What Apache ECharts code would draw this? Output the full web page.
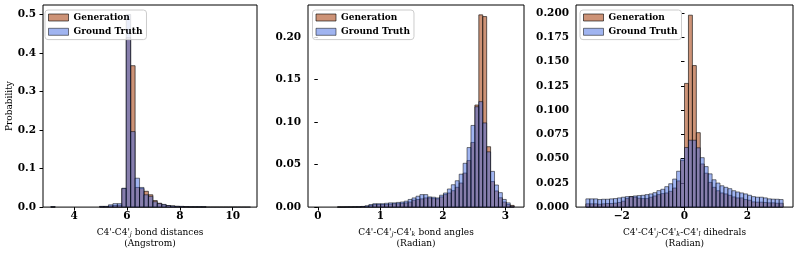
<!DOCTYPE html>
<html><head><meta charset="utf-8">
<script src="https://cdn.jsdelivr.net/npm/echarts@6/dist/echarts.min.js"></script>
<style>html,body{margin:0;padding:0;background:#fff}#c{width:797px;height:254px}</style>
</head><body><div id="c"></div>
<script>
// ---------- Panel 1: C4'-C4'j bond distances (Angstrom) ----------
const distBinStart = 3.114, distBinWidth = 0.168;
const distGen = [0.0005,0,0,0,0,0,0,0,0,0,0,0.001,0.001,0.003,0.004,0.005,0.048,0.44,0.367,0.051,0.048,0.041,0.032,0.017,0.010,0.006,0.004,0.003,0.002,0.001,0.001,0.0005,0.0005,0.0005,0.0005,0,0,0,0,0,0,0,0,0,0];
const distGT  = [0.001,0,0,0,0,0,0,0,0,0,0,0.002,0.002,0.006,0.009,0.009,0.049,0.50,0.196,0.075,0.051,0.032,0.028,0.014,0.009,0.007,0.004,0.003,0.002,0.002,0.001,0.001,0.001,0.001,0.001,0.0003,0.0003,0.0003,0.0003,0.0003,0.0003,0.0003,0.0003,0.0003,0.0003];
const distXTicks = [4,6,8,10];
const distYTicks = [0,0.1,0.2,0.3,0.4,0.5];

// ---------- Panel 2: C4'-C4'j-C4'k bond angles (Radian) ----------
const angleBinStart = 0, angleBinWidth = Math.PI/50;
const angleGen = [0,0,0,0,0,0.0001,0.0001,0.0002,0.0002,0.0003,0.0003,0.0005,0.001,0.002,0.003,0.003,0.003,0.003,0.0035,0.004,0.004,0.0045,0.005,0.006,
  0.0081,0.0089,0.0097,0.0108,0.0108,0.010,0.0097,0.012,0.0147,0.0166,0.0193,0.0233,0.0283,0.040,0.0547,0.076,0.120,0.226,0.224,0.071,0.030,0.019,0.011,0.006,0.003,0.002];
const angleGT  = [0,0,0,0,0,0.0002,0.0002,0.0003,0.0003,0.0004,0.0005,0.0008,0.0015,0.003,0.004,0.004,0.004,0.0045,0.005,0.005,0.0055,0.006,0.007,0.009,
  0.0108,0.0128,0.0147,0.0147,0.012,0.0116,0.0108,0.014,0.0166,0.0213,0.0263,0.031,0.0387,0.0515,0.070,0.096,0.118,0.124,0.099,0.065,0.042,0.026,0.017,0.009,0.005,0.001];
const angleXTicks = [0,1,2,3];
const angleYTicks = [0,0.05,0.10,0.15,0.20];

// ---------- Panel 3: C4'-C4'j-C4'k-C4'l dihedrals (Radian) ----------
const dihBinStart = -Math.PI, dihBinWidth = 2*Math.PI/50;
const dihGen = [0.0034,0.0034,0.0034,0.0030,0.0034,0.0037,0.0037,0.0041,0.0047,0.0061,0.0088,0.0108,0.0102,0.0092,0.0088,0.0088,0.0102,0.0115,0.0129,0.0139,0.0146,0.0163,0.0197,0.027,0.048,
  0.1276,0.198,0.146,0.0768,0.0445,0.035,0.0255,0.0204,0.0169,0.0146,0.0136,0.0122,0.0105,0.0095,0.0095,0.0078,0.0071,0.0054,0.0051,0.0051,0.0048,0.0044,0.0044,0.0040,0.0040];
const dihGT  = [0.0085,0.0085,0.0085,0.0078,0.0081,0.0081,0.0085,0.0088,0.0095,0.0102,0.0108,0.0108,0.0115,0.0119,0.0122,0.0129,0.0136,0.0149,0.017,0.0184,0.0211,0.0241,0.0289,0.037,0.050,
  0.0615,0.069,0.069,0.0612,0.051,0.0418,0.0343,0.0282,0.0248,0.022,0.0204,0.019,0.0169,0.0156,0.0146,0.0136,0.0122,0.0108,0.0102,0.0102,0.0095,0.0085,0.0082,0.0081,0.0078];
const dihXTicks = [-2,0,2];
const dihYTicks = [0,0.025,0.05,0.075,0.1,0.125,0.15,0.175,0.2];

const seriesNames = ['Generation','Ground Truth'];
const genFill = 'rgba(165,62,12,0.56)', genStroke = 'rgba(0,0,0,0.6)';
const gtFill = 'rgba(65,105,225,0.5)', gtStroke = 'rgba(0,0,0,0.5)';
const FONT = 'DejaVu Serif';

function hist(name, idx, start, width, vals, fill, stroke) {
  return {
    type: 'custom', name, xAxisIndex: idx, yAxisIndex: idx,
    data: vals.map((v, i) => [start + i*width, start + (i+1)*width, v]),
    encode: {x: [0,1], y: 2},
    itemStyle: {color: fill},
    silent: true,
    renderItem(params, api) {
      const v = api.value(2);
      if (!(v > 0)) return null;
      const p0 = api.coord([api.value(0), v]);
      const p1 = api.coord([api.value(1), 0]);
      return {type: 'rect',
        shape: {x: p0[0], y: p0[1], width: p1[0]-p0[0], height: p1[1]-p0[1]},
        style: {fill, stroke, lineWidth: 1}};
    }
  };
}

const grids = [
  {left: 43, top: 5, width: 214, height: 204},
  {left: 308, top: 5, width: 216, height: 204},
  {left: 576, top: 5, width: 217, height: 204}
].map(g => Object.assign(g, {show: true, borderColor: '#000', borderWidth: 1, backgroundColor: 'transparent'}));

const fmtX = v => (v < 0 ? '\u2212' + Math.abs(v) : String(v));
const sub = {fontSize: 6.5, fontStyle: 'italic', fontFamily: FONT, verticalAlign: 'bottom', lineHeight: 7};
function xAxis(idx, min, max, ticks, name) {
  return {
    type: 'value', gridIndex: idx, min, max,
    axisLine: {show: false}, splitLine: {show: false},
    axisTick: {show: true, length: 3.5, lineStyle: {color: '#000', width: 1}, customValues: ticks},
    axisLabel: {customValues: ticks, formatter: fmtX, fontFamily: FONT, fontWeight: 'bold', fontSize: 10.5, color: '#000', margin: 4},
    name, nameLocation: 'middle', nameGap: 16,
    nameTextStyle: {fontFamily: FONT, fontSize: 9, color: '#000', lineHeight: 11, rich: {s: sub}}
  };
}
function yAxis(idx, max, ticks, dec, name) {
  const a = {
    type: 'value', gridIndex: idx, min: 0, max,
    axisLine: {show: false}, splitLine: {show: false},
    axisTick: {show: true, length: 3.5, lineStyle: {color: '#000', width: 1}, customValues: ticks},
    axisLabel: {customValues: ticks, formatter: v => v.toFixed(dec), fontFamily: FONT, fontWeight: 'bold', fontSize: 10.5, color: '#000', margin: 7}
  };
  if (name) Object.assign(a, {name, nameLocation: 'middle', nameGap: 29, nameRotate: 90, nameMoveOverlap: false,
    nameTextStyle: {fontFamily: FONT, fontSize: 9, color: '#000'}});
  return a;
}
function legend(left) {
  return {
    orient: 'vertical', left, top: 10, icon: 'rect', itemWidth: 20, itemHeight: 7, itemGap: 2.3,
    padding: [1.5, 4, 1.8, 3], backgroundColor: 'rgba(255,255,255,0.8)', borderColor: '#cccccc', borderWidth: 1, borderRadius: 3,
    selectedMode: false,
    textStyle: {fontFamily: FONT, fontWeight: 'bold', fontSize: 9, lineHeight: 12, color: '#000'},
    data: [
      {name: seriesNames[0], itemStyle: {color: genFill, borderColor: genStroke, borderWidth: 1}},
      {name: seriesNames[1], itemStyle: {color: gtFill, borderColor: gtStroke, borderWidth: 1}}
    ]
  };
}

const chart = echarts.init(document.getElementById('c'), null, {renderer: 'canvas'});
chart.setOption({
  animation: false,
  grid: grids,
  xAxis: [
    xAxis(0, 2.82, 10.92, distXTicks, "C4'-C4'{s|j} bond distances\n(Angstrom)"),
    xAxis(1, -0.157, 3.299, angleXTicks, "C4'-C4'{s|j}-C4'{s|k} bond angles\n(Radian)"),
    xAxis(2, -1.1*Math.PI, 1.1*Math.PI, dihXTicks, "C4'-C4'{s|j}-C4'{s|k}-C4'{s|l} dihedrals\n(Radian)")
  ],
  yAxis: [
    yAxis(0, 0.5245, distYTicks, 1, 'Probability'),
    yAxis(1, 0.2376, angleYTicks, 2),
    yAxis(2, 0.2085, dihYTicks, 3)
  ],
  legend: [legend(45), legend(312.5), legend(580)],
  series: [
    hist(seriesNames[0], 0, distBinStart, distBinWidth, distGen, genFill, genStroke),
    hist(seriesNames[1], 0, distBinStart, distBinWidth, distGT, gtFill, gtStroke),
    hist(seriesNames[0], 1, angleBinStart, angleBinWidth, angleGen, genFill, genStroke),
    hist(seriesNames[1], 1, angleBinStart, angleBinWidth, angleGT, gtFill, gtStroke),
    hist(seriesNames[0], 2, dihBinStart, dihBinWidth, dihGen, genFill, genStroke),
    hist(seriesNames[1], 2, dihBinStart, dihBinWidth, dihGT, gtFill, gtStroke)
  ]
});
</script></body></html>
